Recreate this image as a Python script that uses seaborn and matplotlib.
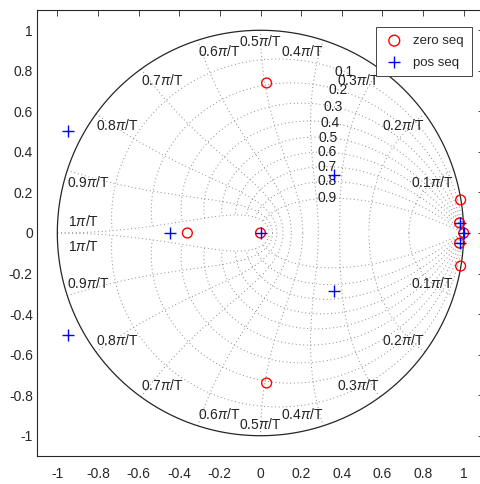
import numpy as np
import pandas as pd
import matplotlib
matplotlib.use("Agg")
import matplotlib.pyplot as plt
import seaborn as sns

# ---- data ----
zero_re = [0.03, 0.03, -0.36, 0.0, 0.985, 0.985, 0.98, 0.98, 1.0]
zero_im = [0.74, -0.74, 0.0, 0.0, 0.163, -0.163, 0.05, -0.05, 0.0]
pos_re = [-0.945, -0.945, -0.445, 0.0, 0.36, 0.36, 0.98, 0.98, 1.0]
pos_im = [0.505, -0.505, 0.0, 0.0, 0.285, -0.285, 0.05, -0.05, 0.0]
series_names = ["zero seq", "pos seq"]

zeta_vals = [0.1, 0.2, 0.3, 0.4, 0.5, 0.6, 0.7, 0.8, 0.9]
wn_vals = [0.1, 0.2, 0.3, 0.4, 0.5, 0.6, 0.7, 0.8, 0.9, 1.0]   # multiples of pi/T
axis_ticks = [-1, -0.8, -0.6, -0.4, -0.2, 0, 0.2, 0.4, 0.6, 0.8, 1]
axis_ticklabels = ["-1", "-0.8", "-0.6", "-0.4", "-0.2", "0", "0.2", "0.4", "0.6", "0.8", "1"]

# ---- style ----
sns.set_style("white")
plt.rcParams["font.family"] = ["Liberation Sans", "DejaVu Sans"]
plt.rcParams["mathtext.fontset"] = "custom"
plt.rcParams["mathtext.rm"] = "Liberation Sans"
plt.rcParams["mathtext.it"] = "Liberation Sans:italic"

W, H = 481, 484
fig = plt.figure(figsize=(W / 100, H / 100), dpi=100)
ax = fig.add_axes([37 / W, 28 / H, 447 / W, 446 / H])
ax.set_facecolor("white")

gridc = "#8a8a8a"
txtc = "#222222"
dot = (0, (1, 2.8))

# damping-ratio curves (wn from 0 to pi)
w = np.linspace(0, np.pi, 200)
for z in zeta_vals:
    zz = np.exp(w * (-z + 1j * np.sqrt(1 - z ** 2)))
    ax.plot(zz.real, zz.imag, color=gridc, lw=0.7, ls=dot, zorder=1)
    ax.plot(zz.real, -zz.imag, color=gridc, lw=0.7, ls=dot, zorder=1)
    # label at wn = 0.35 pi
    p = np.exp(0.35 * np.pi * (-z + 1j * np.sqrt(1 - z ** 2)))
    ax.text(p.real, p.imag, f"{z:g}", ha="center", va="center",
            fontsize=10, color=txtc, zorder=2)

# natural-frequency curves (zeta from 0 to 1)
zt = np.linspace(0, 1, 200)
for k in wn_vals:
    wn = k * np.pi
    zz = np.exp(wn * (-zt + 1j * np.sqrt(1 - zt ** 2)))
    ax.plot(zz.real, zz.imag, color=gridc, lw=0.7, ls=dot, zorder=1)
    ax.plot(zz.real, -zz.imag, color=gridc, lw=0.7, ls=dot, zorder=1)
    lab = f"{k:g}$\\pi$/T"
    c, s = np.cos(wn), np.sin(wn)
    if k >= 1.0:
        ax.annotate(lab, (c, 0), xytext=(8, 3), textcoords="offset points",
                    ha="left", va="bottom", fontsize=10, color=txtc)
        ax.annotate(lab, (c, 0), xytext=(8, -4), textcoords="offset points",
                    ha="left", va="top", fontsize=10, color=txtc)
        continue
    ha = "right" if c > 0.01 else ("left" if c < -0.01 else "center")
    ax.annotate(lab, (c, s), xytext=(0, -3), textcoords="offset points",
                ha=ha, va="top", fontsize=10, color=txtc)
    ax.annotate(lab, (c, -s), xytext=(0, 3), textcoords="offset points",
                ha=ha, va="bottom", fontsize=10, color=txtc)

# unit circle
th = np.linspace(0, 2 * np.pi, 400)
ax.plot(np.cos(th), np.sin(th), color="#262626", lw=0.9, zorder=2)

# ---- data markers via seaborn ----
df_zero = pd.DataFrame({"re": zero_re, "im": zero_im})
df_pos = pd.DataFrame({"re": pos_re, "im": pos_im})
sns.scatterplot(data=df_zero, x="re", y="im", ax=ax, marker="o", s=50,
                facecolors="none", edgecolor="red", linewidth=1.0,
                label=series_names[0], zorder=4)
sns.scatterplot(data=df_pos, x="re", y="im", ax=ax, marker="+", s=70,
                color="blue", linewidth=1.0, label=series_names[1], zorder=5)

# ---- axes ----
ax.set_xlim(-1.1, 1.1)
ax.set_ylim(-1.1, 1.1)
ax.set_xticks(axis_ticks)
ax.set_xticklabels(axis_ticklabels)
ax.set_yticks(axis_ticks)
ax.set_yticklabels(axis_ticklabels)
ax.set_xlabel("")
ax.set_ylabel("")
ax.tick_params(direction="in", top=True, right=True, length=4, width=0.6,
               colors="#262626", labelsize=10)
ax.tick_params(axis="x", pad=8)
ax.tick_params(axis="y", pad=3)
for sp in ax.spines.values():
    sp.set_visible(True)
    sp.set_color("#262626")
    sp.set_linewidth(0.8)

leg = ax.legend(loc="upper right", bbox_to_anchor=(0.973, 0.962),
                borderaxespad=0, fontsize=9.5, frameon=True, fancybox=False,
                edgecolor="#262626", framealpha=1, handlelength=1.5,
                handletextpad=0.7, borderpad=0.6, labelspacing=0.7,
                markerscale=1.1)
leg.get_frame().set_linewidth(0.6)
leg.set_zorder(10)

fig.savefig("out.png", dpi=100, facecolor="white")
